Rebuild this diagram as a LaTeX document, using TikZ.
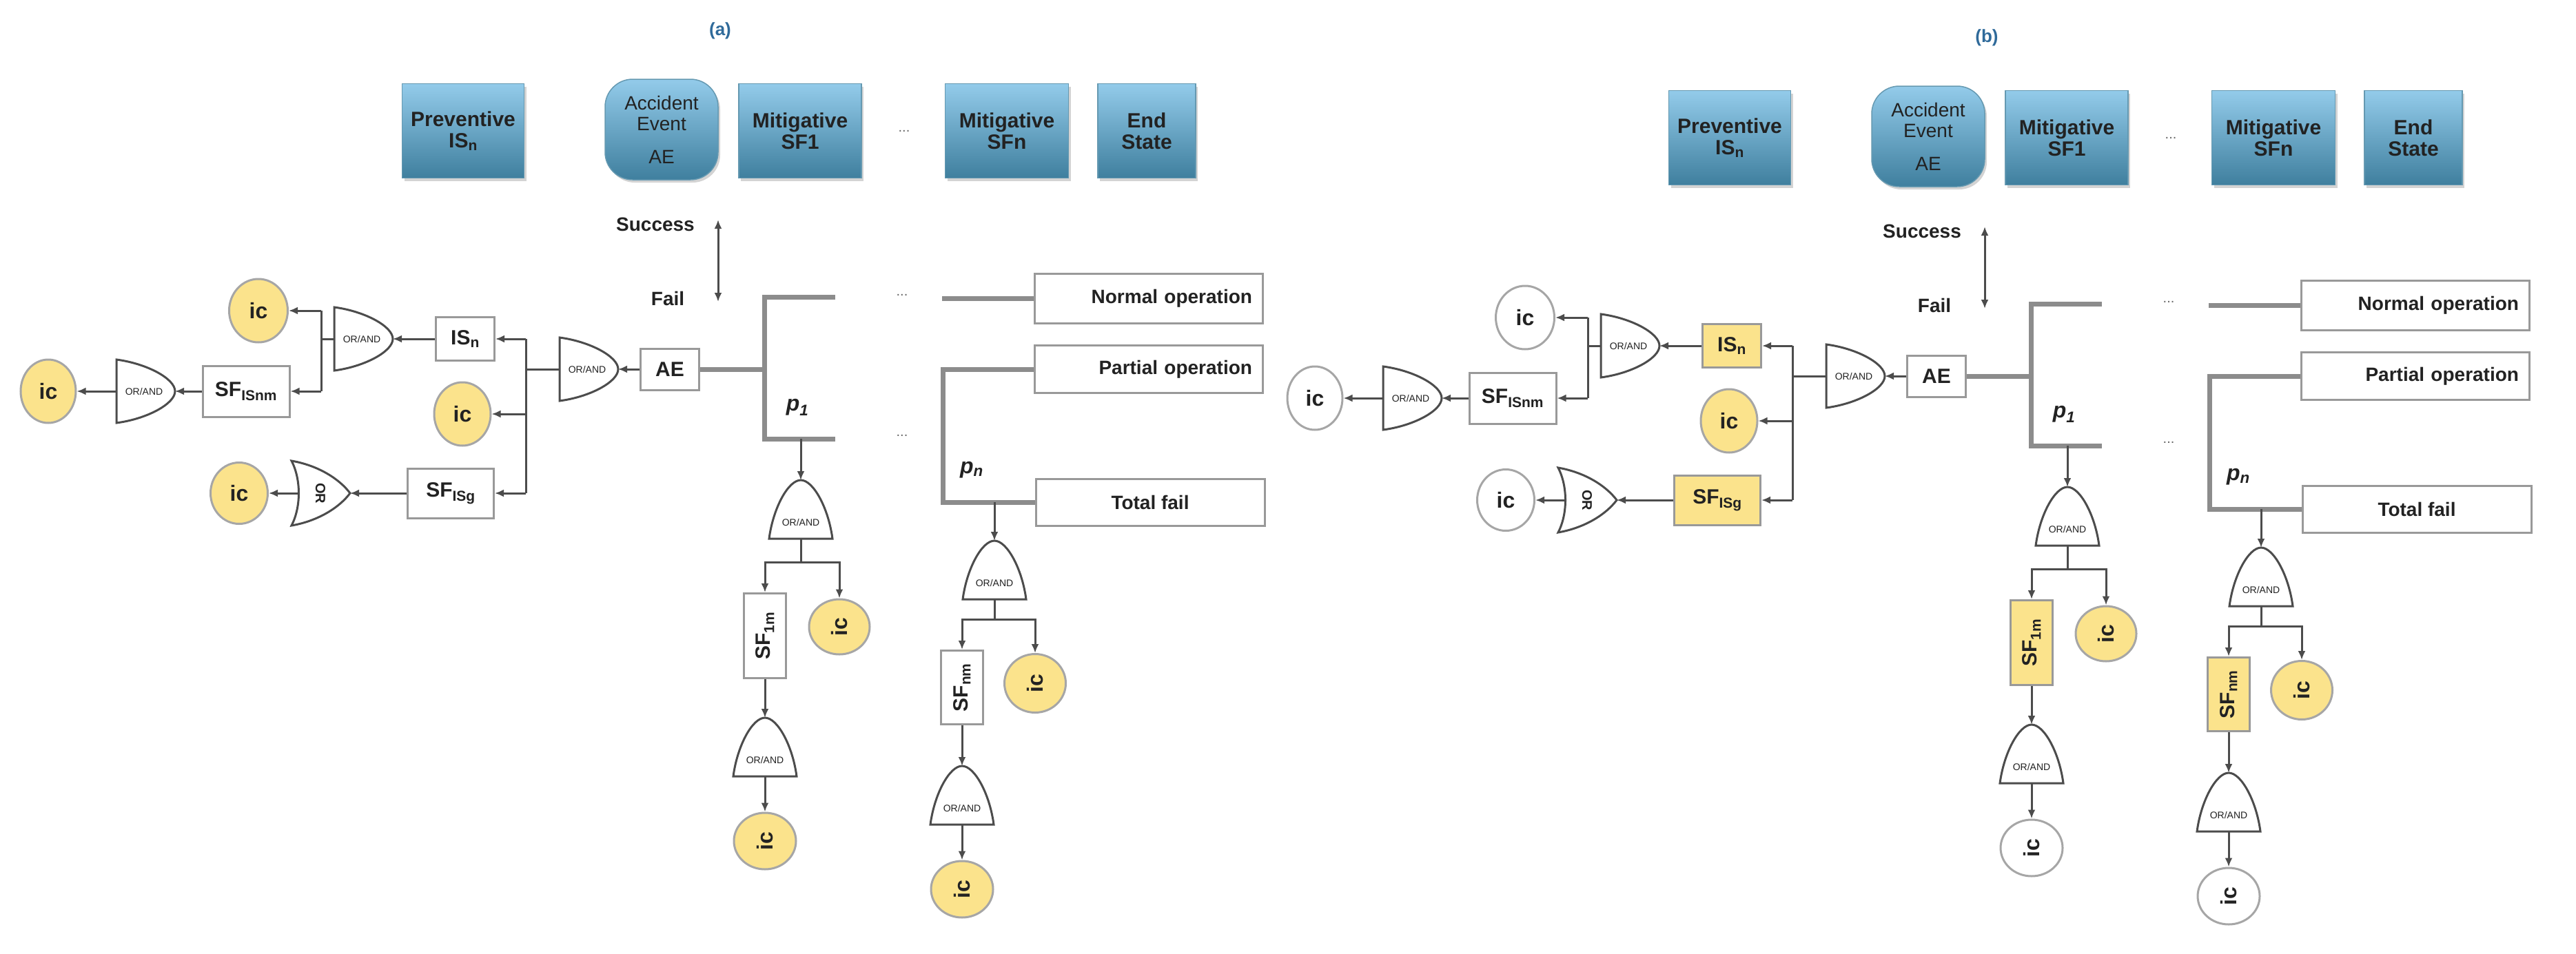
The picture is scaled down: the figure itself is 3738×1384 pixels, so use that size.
\documentclass[tikz,border=0pt]{standalone}
\usepackage{fontspec}
\setmainfont{Liberation Sans}
\usetikzlibrary{arrows.meta,shapes.geometric,shadows}
\definecolor{yel}{HTML}{FBE38C}
\definecolor{hdtop}{HTML}{93CBEA}
\definecolor{hdbot}{HTML}{3F7F9E}
\definecolor{labblue}{HTML}{2F6A9A}
\definecolor{txt}{HTML}{222222}
\tikzset{
 ln/.style={draw=black!70,line width=3pt},
 arr/.style={ln,-{Latex[length=13pt,width=11pt]}},
 et/.style={draw=black!45,line width=7pt},
 bx/.style={draw=black!40,line width=3pt,fill=white,font=\fontsize{30}{32}\selectfont\bfseries,text=txt,inner sep=2pt},
 lab/.style={font=\fontsize{28}{30}\selectfont\bfseries,text=txt},
 ic/.style={ellipse,draw=black!35,line width=3pt,inner sep=0pt,font=\fontsize{32}{34}\selectfont\bfseries,text=txt},
 hdr/.style={draw=hdbot!80,line width=1.5pt,top color=hdtop,bottom color=hdbot,align=center,minimum height=137,
   font=\fontsize{30}{31}\selectfont\bfseries,text=txt,drop shadow={opacity=0.35,shadow xshift=3pt,shadow yshift=-4pt}},
 dots/.style={font=\fontsize{20}{20}\selectfont,text=black!60},
 gtxt/.style={font=\fontsize{14}{14}\selectfont,text=txt,inner sep=0pt},
 gate/.pic={\draw[draw=black!70,line width=3pt,fill=white] (-46,0) .. controls (-40,-45) and (-18,-85) .. (0,-85) .. controls (18,-85) and (40,-45) .. (46,0) -- cycle;
   \coordinate (-tip) at (0,-85); \coordinate (-base) at (0,0);
   \node[gtxt] at (0,-#1) {OR/AND};},
 orgate/.pic={\draw[draw=black!70,line width=3pt,fill=white] (0,-47) .. controls (14,-20) and (14,20) .. (0,47) .. controls (40,40) and (70,20) .. (85,0) .. controls (70,-20) and (40,-40) .. (0,-47) -- cycle;
   \coordinate (-tip) at (85,0); \coordinate (-back) at (12,0);
   \node[gtxt,rotate=-90,font=\fontsize{20}{20}\selectfont\bfseries] at (42,0) {OR};},
}
\newcommand\drawpanel[4]{%
 \node[font=\fontsize{26}{28}\selectfont\bfseries,text=labblue] (#1lbl) at (1045,45) {#4};
 \node[hdr,minimum width=177] (#1h1) at (672,190) {Preventive\\IS\textsubscript{n}};
 \node[hdr,minimum width=164,minimum height=146,rounded corners=40pt,font=\fontsize{28}{30}\selectfont] (#1h2) at (960,188) {Accident\\Event\\[18pt]AE};
 \node[hdr,minimum width=178] (#1h3) at (1161,190) {Mitigative\\SF1};
 \node[dots] (#1hd) at (1312,190) {...};
 \node[hdr,minimum width=179] (#1h4) at (1461,190) {Mitigative\\SFn};
 \node[hdr,minimum width=142] (#1h5) at (1664,190) {End\\State};
 \node[lab] (#1succ) at (951,326) {Success};
 \node[lab] (#1fail) at (969,433) {Fail};
 \coordinate (#1sa) at (1042,319); \coordinate (#1sb) at (1042,438);
 \draw[ln,{Latex[length=13pt,width=11pt]}-{Latex[length=13pt,width=11pt]}] (#1sa) -- (#1sb);
 % event tree
 \node[bx,minimum width=85,minimum height=60] (#1ae) at (972,536) {AE};
 \coordinate (#1t0) at (1109,536); \coordinate (#1t1) at (1109,431); \coordinate (#1t2) at (1212,431);
 \coordinate (#1t3) at (1109,637); \coordinate (#1t4) at (1212,637);
 \draw[et] (#1ae.east) -- (#1t0);
 \draw[et] (#1t2) -- (#1t1) -- (#1t3) -- (#1t4);
 \node[dots] (#1d1) at (1309,428) {...};
 \node[dots] (#1d2) at (1309,632) {...};
 \node[bx,minimum width=331,minimum height=72,font=\fontsize{28}{30}\selectfont\bfseries,align=right,text width=300] (#1norm) at (1667,433) {Normal operation};
 \node[bx,minimum width=331,minimum height=69,font=\fontsize{28}{30}\selectfont\bfseries,align=right,text width=300] (#1part) at (1667,536) {Partial operation};
 \node[bx,minimum width=332,minimum height=68,font=\fontsize{28}{30}\selectfont\bfseries] (#1tot) at (1669,729) {Total fail};
 \coordinate (#1n0) at (1367,433);
 \draw[et] (#1n0) -- (#1norm.west);
 \coordinate (#1q0) at (1368,536); \coordinate (#1q1) at (1368,729);
 \draw[et] (#1part.west) -- (#1q0) -- (#1q1) -- (#1tot.west);
 \node[font=\fontsize{32}{32}\selectfont\bfseries\itshape,text=txt] (#1p1) at (1157,591) {p\textsubscript{1}};
 \node[font=\fontsize{32}{32}\selectfont\bfseries\itshape,text=txt] (#1pn) at (1410,682) {p\textsubscript{n}};
 % branch p1
 \coordinate (#1b1) at (1162,637);
 \pic (#1g1) at (1162,782) {gate=24};
 \draw[arr] (#1b1) -- (#1g1-tip);
 \coordinate (#1j1) at (1162,816);
 \node[bx,rotate=90,minimum width=123,minimum height=61] (#1sf1) at (1110,923) {SF\textsubscript{1m}};
 \node[bx,fill=#2,rotate=90,minimum width=123,minimum height=61] at (#1sf1) {SF\textsubscript{1m}};
 \node[ic,fill=yel,rotate=90,minimum width=80,minimum height=88] (#1ic2) at (1218,910) {ic};
 \draw[ln] (#1g1-base) -- (#1j1);
 \draw[arr] (#1j1) -| (#1sf1.east);
 \draw[arr] (#1j1) -| (#1ic2.east);
 \pic (#1g2) at (1110,1127) {gate=24};
 \draw[arr] (#1sf1.west) -- (#1g2-tip);
 \node[ic,fill=#3,rotate=90,minimum width=82,minimum height=90] (#1ic3) at (1110,1221) {ic};
 \draw[arr] (#1g2-base) -- (#1ic3.east);
 % branch pn
 \coordinate (#1b2) at (1443,729);
 \pic (#1g3) at (1443,870) {gate=24};
 \draw[arr] (#1b2) -- (#1g3-tip);
 \coordinate (#1j2) at (1443,899);
 \node[bx,fill=#2,rotate=90,minimum width=107,minimum height=61] (#1sfn) at (1396,998) {SF\textsubscript{nm}};
 \node[ic,fill=yel,rotate=90,minimum width=85,minimum height=89] (#1ic4) at (1502,992) {ic};
 \draw[ln] (#1g3-base) -- (#1j2);
 \draw[arr] (#1j2) -| (#1sfn.east);
 \draw[arr] (#1j2) -| (#1ic4.east);
 \pic (#1g4) at (1396,1197) {gate=24};
 \draw[arr] (#1sfn.west) -- (#1g4-tip);
 \node[ic,fill=#3,rotate=90,minimum width=82,minimum height=90] (#1ic5) at (1396,1291) {ic};
 \draw[arr] (#1g4-base) -- (#1ic5.east);
 % left fault tree
 \pic[rotate=-90] (#1g0) at (812,536) {gate=40};
 \draw[arr] (#1ae.west) -- (#1g0-tip);
 \coordinate (#1u0) at (763,536); \coordinate (#1u1) at (763,492);
 \coordinate (#1u2) at (763,716); \coordinate (#1u3) at (763,601);
 \draw[ln] (#1g0-base) -- (#1u0);
 \draw[ln] (#1u1) -- (#1u2);
 \node[bx,fill=#2,minimum width=85,minimum height=63] (#1isn) at (675,492) {IS\textsubscript{n}};
 \node[ic,fill=yel,minimum width=82,minimum height=92] (#1ic1) at (671,601) {ic};
 \node[bx,fill=#2,minimum width=125,minimum height=72] (#1sfg) at (654,716) {SF\textsubscript{ISg}};
 \draw[arr] (#1u1) -- (#1isn.east);
 \draw[arr] (#1u3) -- (#1ic1.east);
 \draw[arr] (#1u2) -- (#1sfg.east);
 \pic[rotate=-90] (#1g5) at (485,492) {gate=40};
 \draw[arr] (#1isn.west) -- (#1g5-tip);
 \coordinate (#1v0) at (466,492); \coordinate (#1v1) at (466,451); \coordinate (#1v2) at (466,568);
 \draw[ln] (#1g5-base) -- (#1v0);
 \draw[ln] (#1v1) -- (#1v2);
 \node[ic,fill=#3,minimum width=85,minimum height=92] (#1ic0) at (375,451) {ic};
 \node[bx,minimum width=126,minimum height=74] (#1sfnm) at (357,568) {SF\textsubscript{ISnm}};
 \draw[arr] (#1v1) -- (#1ic0.east);
 \draw[arr] (#1v2) -- (#1sfnm.east);
 \pic[rotate=-90] (#1g6) at (169,568) {gate=40};
 \draw[arr] (#1sfnm.west) -- (#1g6-tip);
 \node[ic,fill=#3,minimum width=80,minimum height=92] (#1icL) at (70,568) {ic};
 \draw[arr] (#1g6-base) -- (#1icL.east);
 \pic (#1or) at (423,716) {orgate};
 \draw[arr] (#1sfg.west) -- (#1or-tip);
 \node[ic,fill=#3,minimum width=83,minimum height=89] (#1icB) at (347,716) {ic};
 \draw[arr] (#1or-back) -- (#1icB.east);
}
\begin{document}
\begin{tikzpicture}[x=1pt,y=-1pt]
\useasboundingbox (0,0) rectangle (3738,1384);
\drawpanel{a}{white}{yel}{(a)}
\begin{scope}[shift={(1838,10)}]
\drawpanel{b}{yel}{white}{(b)}
\end{scope}
\end{tikzpicture}
\end{document}
